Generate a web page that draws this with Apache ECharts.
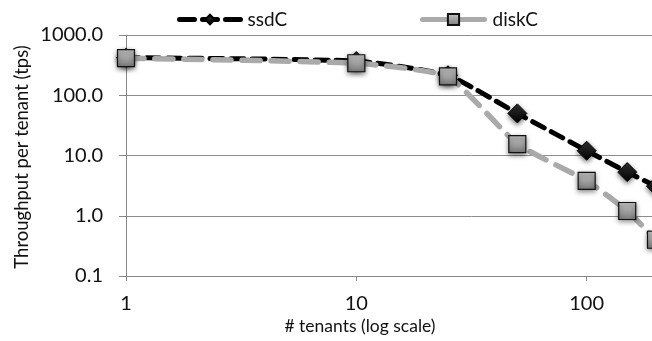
<!DOCTYPE html>
<html><head><meta charset="utf-8">
<script src="https://cdn.jsdelivr.net/npm/echarts@6/dist/echarts.min.js"></script>
<style>html,body{margin:0;padding:0;background:#fff;overflow:hidden;width:652px;height:341px}#c{width:820px;height:341px}</style>
</head><body><div id="c"></div>
<script>
var tenants = [1, 10, 25, 50, 100, 150, 200];
var ssdC = [420, 370, 215, 50, 12, 5.3, 3.1];
var diskC = [412, 340, 205, 15.5, 3.8, 1.2, 0.4];
var yTickLabels = {0.1: '0.1', 1: '1.0', 10: '10.0', 100: '100.0', 1000: '1000.0'};
var xTickLabels = {1: '1', 10: '10', 100: '100'};
var FONT = 'Lato';

var chart = echarts.init(document.getElementById('c'));
function pairs(xs, ys) { return xs.map(function (x, i) { return [x, ys[i]]; }); }
var squareFill = new echarts.graphic.LinearGradient(0, 0, 0, 1, [
  {offset: 0, color: '#c8c8c8'}, {offset: 1, color: '#7a7a7a'}]);
var diamondFill = new echarts.graphic.LinearGradient(0, 0, 0, 1, [
  {offset: 0, color: '#333'}, {offset: 1, color: '#000'}]);
chart.setOption({
  animation: false,
  textStyle: {fontFamily: FONT},
  grid: {left: 126, right: 0, top: 35, bottom: 65, containLabel: false},
  legend: [
    {left: 172, top: 5, itemWidth: 61, itemHeight: 12, itemGap: 0,
     lineStyle: {width: 5, type: [15, 8], cap: 'round'},
     textStyle: {fontSize: 19, color: '#111', fontFamily: FONT, padding: [0, 0, 0, 2]}, data: ['ssdC']},
    {left: 415, top: 5, itemWidth: 62, itemHeight: 14, itemGap: 0,
     lineStyle: {width: 5, type: 'solid', cap: 'round'},
     textStyle: {fontSize: 19, color: '#111', fontFamily: FONT, padding: [0, 0, 0, 3]}, data: ['diskC']}
  ],
  xAxis: {
    type: 'log', logBase: 10, min: 1, max: 1000,
    axisLine: {show: true, lineStyle: {color: '#888', width: 1}},
    axisTick: {show: true, length: 5, lineStyle: {color: '#888'}},
    splitLine: {show: false},
    minorTick: {show: false},
    axisLabel: {fontSize: 20, color: '#111', margin: 18, fontFamily: FONT,
      formatter: function (v) { return xTickLabels[v] !== undefined ? xTickLabels[v] : ''; }}
  },
  yAxis: {
    type: 'log', logBase: 10, min: 0.1, max: 1000,
    axisLine: {show: true, lineStyle: {color: '#888', width: 1}},
    axisTick: {show: true, length: 7, lineStyle: {color: '#888'}},
    splitLine: {show: true, lineStyle: {color: '#8c8c8c', width: 1}},
    axisLabel: {fontSize: 20, color: '#111', margin: 23, fontFamily: FONT,
      formatter: function (v) {
        var k = Number(v.toPrecision(3));
        return yTickLabels[k] !== undefined ? yTickLabels[k] : '';
      }}
  },
  graphic: [
    {type: 'text', x: 360, y: 326, style: {text: '# tenants (log scale)', font: '17.5px ' + FONT, fill: '#111', textAlign: 'center', textVerticalAlign: 'middle'}},
    {type: 'text', x: 22, y: 157, rotation: Math.PI / 2, style: {text: 'Throughput per tenant (tps)', font: '18.5px ' + FONT, fill: '#111', textAlign: 'center', textVerticalAlign: 'middle'}}
  ],
  series: [
    {name: 'ssdC', type: 'line', data: pairs(tenants, ssdC), smooth: 0.15,
     symbol: 'diamond', symbolSize: 19,
     lineStyle: {color: '#000', width: 5, type: [13, 8], cap: 'round'},
     itemStyle: {color: diamondFill, borderColor: '#000', borderWidth: 1,
       shadowBlur: 5, shadowColor: 'rgba(0,0,0,0.55)', shadowOffsetY: 2}, z: 2},
    {name: 'diskC', type: 'line', data: pairs(tenants, diskC), smooth: 0.15,
     symbol: 'rect', symbolSize: 17,
     lineStyle: {color: '#aaaaaa', width: 5.5, type: [18, 11], cap: 'round'},
     itemStyle: {color: squareFill, borderColor: '#111', borderWidth: 1.2,
       shadowBlur: 5, shadowColor: 'rgba(0,0,0,0.55)', shadowOffsetY: 2}, z: 3}
  ]
});
</script></body></html>
